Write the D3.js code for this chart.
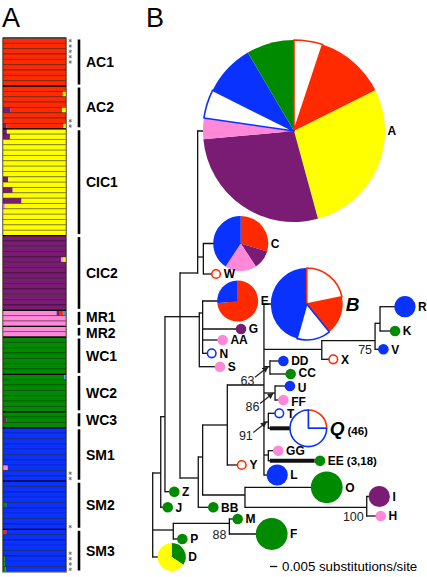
<!DOCTYPE html>
<html><head><meta charset="utf-8">
<script src="https://cdn.jsdelivr.net/npm/d3@7"></script>
<style>body{margin:0;background:#fff}svg{display:block;font-family:"Liberation Sans",Arial,Helvetica,sans-serif}</style>
</head><body><svg id="c" width="427" height="577"></svg>
<script>
// ---------- colours ----------
const COL = {red:"#ff2a00",yellow:"#ffff00",purple:"#7a1c73",pink:"#ff88d9",green:"#008a00",blue:"#0a32ff",cyan:"#2ca6e6"};

// ---------- Panel A data ----------
const clusters      = ["AC1","AC2","CIC1","CIC2","MR1","MR2","WC1","WC2","WC3","SM1","SM2","SM3"];
const clusterSizes  = [9,8,20,14,3,2,7,7,3,10,9,8];
const clusterColors = ["red","red","yellow","purple","pink","pink","green","green","green","blue","blue","blue"];
// [cluster, row in cluster, side, colour, fraction]
const admixture = [
  [1,1,"R","yellow",0.05],
  [1,4,"L","purple",0.12],[1,4,"R","yellow",0.06],
  [1,7,"L","purple",0.05],[1,7,"R","yellow",0.04],
  [2,0,"L","purple",0.06],[2,1,"L","purple",0.11],[2,9,"L","purple",0.08],
  [2,11,"L","purple",0.15],[2,13,"L","purple",0.29],[2,14,"L","pink",0.03],
  [3,4,"R","yellow",0.05],[3,4,"R","pink",0.03],
  [4,0,"R","cyan",0.05],[4,0,"R","red",0.05],[4,0,"R","purple",0.05],
  [7,0,"R","cyan",0.03],
  [8,1,"L","purple",0.05],
  [9,7,"L","pink",0.07],
  [10,4,"L","green",0.05],
  [11,0,"L","red",0.05],
  [11,5,"L","green",0.03],[11,6,"L","green",0.03],[11,7,"L","green",0.04]
];
const starred = [[0,0],[0,1],[0,2],[0,3],[0,4],[1,6],[1,7],[9,8],[9,9],[10,8],[11,4],[11,5],[11,6],[11,7]];

// ---------- Panel B data ----------
// [id, parent, depth (x0.001 substitutions/site), row position]
const treeTable = [
  ["R0",null,0,515],["C1","R0",5.5,473],["C2","C1",8.4,416.7],["C3","C2",18.7,316.7],
  ["N1","C3",30.8,273],["A","N1",96.8,131],["CW","N1",34.7,257],["C","CW",60.3,243.5],["W","CW",43.4,274],
  ["nEGS","C3",31.9,316.7],["nEGAN","nEGS",34.2,313],["E","nEGAN",58.2,301],["G","nEGAN",60.5,329],
  ["AA","nEGAN",47.9,340],["N","nEGAN",40.4,353.3],["S","nEGS",46.1,366.7],
  ["C4","C3",31.2,478],["C5","C4",34.2,457],["C6","C5",51.1,425],["C8","C6",76.2,385],
  ["B","C8",105.5,304],["BX","C8",115.8,349.3],["RKV","BX",152.3,340.7],["RK","RKV",155.7,323.3],
  ["R","RK",172.8,306.7],["K","RK",166,331],["V","RKV",158,349.3],["X","BX",123.7,359.3],
  ["DDCC","C8",80.3,366.7],["DD","DDCC",89.5,361],["CC","DDCC",94.5,374],
  ["UFF","C8",83.8,393],["U","UFF",94,386],["FF","UFF",89.5,400],
  ["TQ","C8",79.2,422],["T","TQ",86.7,413.3],["Q","TQ",106.6,428.3],
  ["GGEE","C8",79.2,455],["GG","GGEE",86,450.7],["EE","GGEE",114.6,460.7],
  ["L","C8",85.3,475],["Y","C6",61,465],
  ["C7","C5",63.2,495],["O","C7",119.2,487.3],["IH","C7",146.6,507.3],["I","IH",155.2,496.5],["H","IH",156.2,516],
  ["BB","C4",41.5,507.3],["Z","C2",14.8,491.7],["J","C1",10.3,507.3],
  ["PMF","R0",14.1,530],["MF","PMF",52.5,523.3],["M","MF",58.2,519],["F","MF",81.5,534],["P","PMF",20.3,539],
  ["D","R0",13,557]
];
// haplotype sample counts
const hapCounts = {A:295,B:46,C:27,E:15,Q:12,F:9,O:9,D:7,R:4,I:4,L:4};
// pie compositions (clockwise from 12 o'clock); wr / wb = hollow red / hollow blue
const pieA = [["wr",15],["red",37],["yellow",83],["purple",82],["pink",11],["wb",15],["blue",27],["green",25]];
const pieB = [["wr",10],["red",8],["wb",7],["blue",21]];
const pieC = [["red",8],["purple",3],["pink",5],["blue",11]];
const pieE = [["red",11],["blue",4]];
const pieQ = [["wr",3],["wb",9]];
const pieD = [["green",2.4],["yellow",4.6]];
const pies = {A:pieA,B:pieB,C:pieC,E:pieE,Q:pieQ,D:pieD};
const hapColor = {W:"wr",N:"wb",X:"wr",Y:"wr",T:"wb",G:"purple",AA:"pink",S:"pink",K:"green",V:"blue",
  DD:"blue",CC:"green",U:"blue",FF:"pink",GG:"pink",EE:"green",L:"blue",O:"green",I:"purple",H:"pink",
  BB:"green",Z:"green",J:"green",P:"green",M:"green",F:"green",R:"blue"};
const thickBranches = ["Q","EE"];
const bigLabels = ["B","Q"];
const labelSuffix = {Q:"(46)",EE:"(3,18)"};
// [node, support, with arrow]
const bootstrap = [["DDCC","63",true],["UFF","86",true],["TQ","91",true],["RKV","75",false],["MF","88",false],["IH","100",false]];
const scaleBarValue = 0.005;

// ---------- drawing ----------
const svg = d3.select("#c");
svg.append("text").attr("x",2).attr("y",27).attr("font-size",27).text("A");
svg.append("text").attr("x",146).attr("y",27).attr("font-size",27).text("B");

// Panel A
const totalRows = d3.sum(clusterSizes);
const yA = d3.scaleLinear().domain([0,totalRows]).range([38,572]);
const xA = d3.scaleLinear().domain([0,1]).range([3,66]);
const gA = svg.append("g");
const labelShift = {MR1:-1.6, MR2:1.6};
let starts = [], acc = 0;
clusterSizes.forEach(s=>{starts.push(acc); acc+=s;});
clusters.forEach((c,ci)=>{
  for(let r=0;r<clusterSizes[ci];r++){
    const idx = starts[ci]+r;
    const adm = admixture.filter(a=>a[0]===ci && a[1]===r);
    const segs = []; let l=0, rr=1;
    adm.filter(a=>a[2]==="L").forEach(a=>{segs.push([l,l+a[4],a[3]]); l+=a[4];});
    adm.filter(a=>a[2]==="R").forEach(a=>{segs.push([rr-a[4],rr,a[3]]); rr-=a[4];});
    segs.unshift([l,rr,clusterColors[ci]]);
    segs.forEach(s=>gA.append("rect").attr("x",xA(s[0])).attr("width",xA(s[1])-xA(s[0]))
      .attr("y",yA(idx)).attr("height",yA(idx+1)-yA(idx)).attr("fill",COL[s[2]]));
    gA.append("rect").attr("x",xA(0)).attr("width",xA(1)-xA(0)).attr("y",yA(idx)).attr("height",yA(idx+1)-yA(idx))
      .attr("fill","none").attr("stroke","#000").attr("stroke-opacity",0.45).attr("stroke-width",0.8);
  }
  gA.append("line").attr("x1",xA(0)).attr("x2",xA(1)).attr("y1",yA(starts[ci])).attr("y2",yA(starts[ci]))
    .attr("stroke","#000").attr("stroke-width",1.3);
  const y0 = yA(starts[ci])+1.5, y1 = yA(starts[ci]+clusterSizes[ci])-1.5;
  gA.append("line").attr("x1",79).attr("x2",79).attr("y1",y0).attr("y2",y1).attr("stroke","#000").attr("stroke-width",2.6);
  gA.append("text").attr("x",86).attr("y",(y0+y1)/2+5+(labelShift[c]||0)).attr("font-size",14).attr("font-weight","bold").text(c);
});
gA.append("rect").attr("x",xA(0)-0.5).attr("y",yA(0)).attr("width",xA(1)-xA(0)+1).attr("height",yA(totalRows)-yA(0))
  .attr("fill","none").attr("stroke","#7d7666").attr("stroke-width",1);
// significance asterisks (drawn as small asterisk symbols)
const starSym = d3.symbol().type(d3.symbolAsterisk || d3.symbolCross).size(9);
starred.forEach(s=>{
  const idx = starts[s[0]]+s[1];
  gA.append("path").attr("d",starSym()).attr("transform",`translate(${xA(1)+4.2},${yA(idx+0.5)})`)
    .attr("fill","none").attr("stroke","#666").attr("stroke-width",0.8);
});

// Panel B
const xT = d3.scaleLinear().domain([0,5]).range([152.7,160]);
const yT = d3.scaleLinear().domain([0,577]).range([0,577]);
const rS = d3.scaleSqrt().domain([0,1]).range([0,5.3]);
const root = d3.stratify().id(d=>d[0]).parentId(d=>d[1])(treeTable);
root.each(n=>{n.px = xT(n.data[2]); n.py = yT(n.data[3]); n.r = rS(hapCounts[n.id]||1);});

const gL = svg.append("g").attr("stroke","#111").attr("stroke-width",1.3).attr("fill","none");
root.descendants().forEach(n=>{
  if(n.parent){
    if(thickBranches.includes(n.id)){
      gL.append("line").attr("x1",n.parent.px).attr("x2",n.parent.px+2).attr("y1",n.py).attr("y2",n.py);
      gL.append("line").attr("x1",n.parent.px+1.5).attr("x2",n.px-n.r).attr("y1",n.py).attr("y2",n.py).attr("stroke-width",4);
    } else {
      gL.append("line").attr("x1",n.parent.px).attr("x2",n.px).attr("y1",n.py).attr("y2",n.py);
    }
  }
  if(n.children){
    const ys = n.children.map(c=>c.py); if(n.parent) ys.push(n.py);
    gL.append("line").attr("x1",n.px).attr("x2",n.px).attr("y1",d3.min(ys)-0.65).attr("y2",d3.max(ys)+0.65);
  }
});

const fillOf = k => (k==="wr"||k==="wb") ? "#fff" : COL[k];
const strokeOf = k => k==="wr" ? COL.red : k==="wb" ? COL.blue : "none";
const gP = svg.append("g");
const pieGen = d3.pie().sort(null).value(d=>d[1]);
root.leaves().forEach(n=>{
  if(pies[n.id]){
    const arc = d3.arc().innerRadius(0).outerRadius(n.r);
    const g = gP.append("g").attr("transform",`translate(${n.px},${n.py})`);
    const arcs = pieGen(pies[n.id]);
    const solid = arcs.filter(a=>!a.data[0].startsWith("w"));
    const hollow = arcs.filter(a=>a.data[0].startsWith("w"));
    solid.concat(hollow).forEach(a=>{
      g.append("path").attr("d",arc(a)).attr("fill",fillOf(a.data[0]))
        .attr("stroke",strokeOf(a.data[0])).attr("stroke-width",1.6).attr("stroke-linejoin","round");
    });
  } else {
    const k = hapColor[n.id];
    const hollow = k==="wr"||k==="wb";
    gP.append("circle").attr("cx",n.px).attr("cy",n.py).attr("r",hollow? n.r-1 : n.r)
      .attr("fill",fillOf(k)).attr("stroke",strokeOf(k)).attr("stroke-width",1.6);
  }
});

// leaf labels
const gT = svg.append("g");
const leafNudge = {DD:-0.6, CC:-1, U:1.2, FF:1.4};
root.leaves().forEach(n=>{
  const big = bigLabels.includes(n.id);
  const t = gT.append("text").attr("x",n.px+n.r+(big?3:2.5)).attr("y",n.py+(big?6.5:4.3)+(leafNudge[n.id]||0))
    .attr("font-weight","bold").attr("font-size",big?19:12).attr("font-style",big?"italic":null);
  t.append("tspan").text(n.id);
  if(labelSuffix[n.id]) t.append("tspan").attr("font-size",11.5).attr("font-style","normal").attr("dx",3).text(labelSuffix[n.id]);
});

// bootstrap values
const defs = svg.append("defs");
defs.append("marker").attr("id","ah").attr("viewBox","0 0 10 10").attr("refX",9).attr("refY",5)
  .attr("markerWidth",5).attr("markerHeight",5).attr("orient","auto")
  .append("path").attr("d","M0,0L10,5L0,10z").attr("fill","#222");
const byId = new Map(root.descendants().map(n=>[n.id,n]));
bootstrap.forEach(b=>{
  const n = byId.get(b[0]);
  if(b[2]){
    gT.append("line").attr("x1",n.px-15).attr("y1",n.py+10.5).attr("x2",n.px-2).attr("y2",n.py+0.3)
      .attr("stroke","#222").attr("stroke-width",1.2).attr("marker-end","url(#ah)");
    gT.append("text").attr("x",n.px-22.5).attr("y",n.py+18).attr("text-anchor","middle").attr("font-size",12.5).attr("fill","#222").text(b[1]);
  } else {
    const ly = d3.max(n.children, c=>c.py);
    gT.append("text").attr("x",n.px-3).attr("y",ly+4.5).attr("text-anchor","end").attr("font-size",12.5).attr("fill","#222").text(b[1]);
  }
});

// scale bar
const sbx = 270;
svg.append("line").attr("x1",sbx).attr("x2",sbx+xT(scaleBarValue*1000)-xT(0)).attr("y1",566.5).attr("y2",566.5)
  .attr("stroke","#111").attr("stroke-width",1.3);
svg.append("text").attr("x",282).attr("y",571).attr("font-size",13.3).text(scaleBarValue+" substitutions/site");
</script></body></html>
